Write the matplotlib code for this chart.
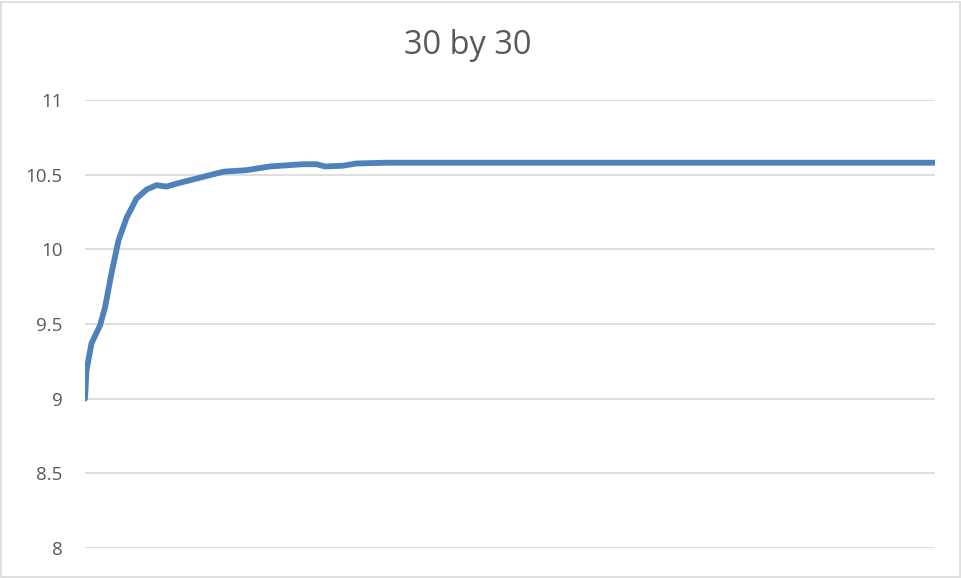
import matplotlib
matplotlib.use("Agg")
import matplotlib.pyplot as plt
from matplotlib.patches import Rectangle

# iteration (arbitrary step units) and value
steps = [0, 0.3, 1.3, 3, 4, 5.3, 6.7, 8.3, 10.3, 12.3, 14.3, 16.3, 18.3,
         23, 27.7, 32.3, 37, 43.6, 46.3, 48, 51.6, 54.3, 60.3, 170]
values = [9.0, 9.19, 9.37, 9.49, 9.61, 9.84, 10.06, 10.21, 10.34, 10.40, 10.43,
          10.42, 10.44, 10.48, 10.52, 10.53, 10.555, 10.57, 10.57, 10.555,
          10.56, 10.575, 10.58, 10.58]
y_ticks = [8, 8.5, 9, 9.5, 10, 10.5, 11]
y_labels = ["8", "8.5", "9", "9.5", "10", "10.5", "11"]

plt.rcParams['font.family'] = ['Open Sans', 'DejaVu Sans']

fig = plt.figure(figsize=(9.62, 5.78), dpi=100)
fig.patches.append(Rectangle((0.001, 0.002), 0.997, 0.995, transform=fig.transFigure,
                             fill=False, edgecolor='#d9d9d9', linewidth=1.2))
ax = fig.add_axes([85/962, 1 - 548/578, 850/962, 448/578])

ax.plot(steps, values, color='#4f81bd', linewidth=4.2, solid_capstyle='round',
        solid_joinstyle='round', zorder=3)

ax.set_xlim(0, 170)
ax.set_ylim(8, 11)
ax.set_yticks(y_ticks)
ax.set_yticklabels(y_labels)
ax.set_xticks([])
ax.grid(axis='y', color='#d9d9d9', linewidth=1.2)
ax.set_axisbelow(True)
for s in ax.spines.values():
    s.set_visible(False)
ax.tick_params(axis='y', length=0, pad=16, labelsize=13.5, labelcolor='#595959')

fig.text(468/962, 1 - 46/578, "30 by 30", ha='center', va='center',
         fontsize=23.5, color='#595959')

fig.savefig("out.png", dpi=100)
